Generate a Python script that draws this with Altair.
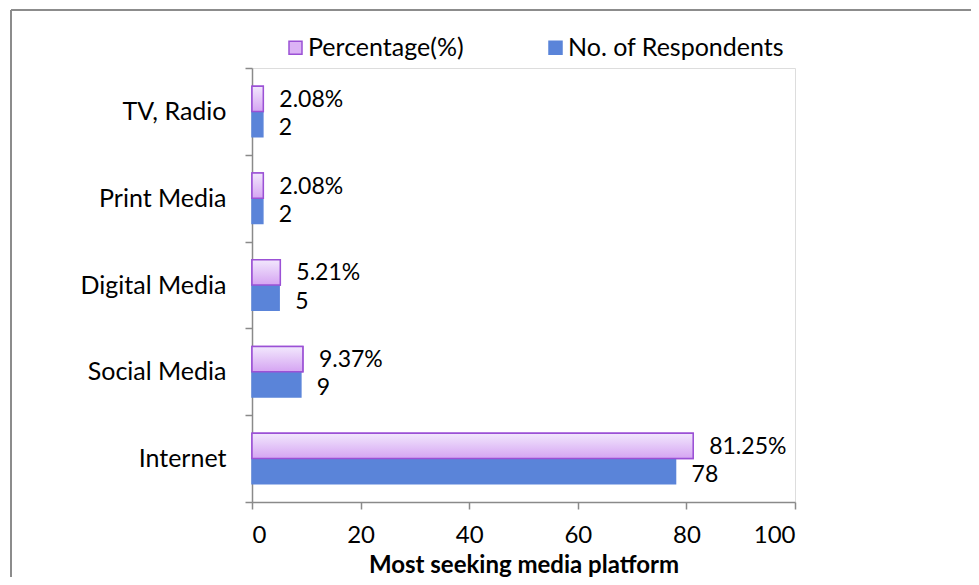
import altair as alt
import pandas as pd

categories = ["TV, Radio", "Print Media", "Digital Media", "Social Media", "Internet"]
series_names = ["Percentage(%)", "No. of Respondents"]
percentages = [2.08, 2.08, 5.21, 9.37, 81.25]
respondents = [2, 2, 5, 9, 78]
pct_labels = ["2.08%", "2.08%", "5.21%", "9.37%", "81.25%"]
resp_labels = ["2", "2", "5", "9", "78"]
x_ticks = [0, 20, 40, 60, 80, 100]

rows = []
for c, p, pl in zip(categories, percentages, pct_labels):
    rows.append({"category": c, "series": series_names[0], "value": p, "label": pl})
for c, r, rl in zip(categories, respondents, resp_labels):
    rows.append({"category": c, "series": series_names[1], "value": r, "label": rl})
df = pd.DataFrame(rows)

FONT = "Lato"
FS = 25
AXIS_GREY = "#8a8a8a"
BLUE = "#5a84d9"
LAV = "#dcb3f5"
PURPLE = "#9b51d5"

y_enc = alt.Y("category:N", sort=categories, title=None,
              scale=alt.Scale(paddingInner=0, paddingOuter=0),
              axis=alt.Axis(tickBand="extent", labelFontSize=FS, labelFont=FONT,
                            labelColor="black", labelPadding=19, tickSize=7,
                            domainColor=AXIS_GREY, tickColor=AXIS_GREY,
                            domainWidth=1.5, tickWidth=1.5, labelLimit=400))
yoff = alt.YOffset("series:N", sort=series_names,
                   scale=alt.Scale(domain=series_names, paddingOuter=0.72, paddingInner=0))
x_enc = alt.X("value:Q", title="Most seeking media platform",
              scale=alt.Scale(domain=[0, 100], nice=False),
              axis=alt.Axis(values=x_ticks, labelFontSize=24, labelFont=FONT,
                            labelColor="black", labelPadding=14, tickSize=7,
                            domainColor=AXIS_GREY, tickColor=AXIS_GREY,
                            domainWidth=1.5, tickWidth=1.5, grid=False,
                            titleFont=FONT, titleFontSize=24, titleFontWeight="bold",
                            titleColor="black", titleY=70, titleBaseline="alphabetic"))

base = alt.Chart(df)

bars = base.mark_bar(strokeWidth=1.5).encode(
    x=x_enc, y=y_enc, yOffset=yoff,
    fill=alt.Fill("series:N", sort=series_names,
                  scale=alt.Scale(domain=series_names, range=[LAV, BLUE]),
                  legend=alt.Legend(title=None, orient="none", direction="horizontal",
                                    legendX=31, legendY=-33, symbolType="square",
                                    symbolSize=169, symbolStrokeWidth=1.5,
                                    labelFont=FONT, labelFontSize=FS, labelColor="black",
                                    labelOffset=0, columnPadding=79, padding=0,
                                    labelLimit=500)),
    stroke=alt.Stroke("series:N", sort=series_names,
                      scale=alt.Scale(domain=series_names, range=[PURPLE, BLUE]),
                      legend=None),
)

grad = alt.Gradient(gradient="linear", x1=0, x2=0, y1=0, y2=1,
                    stops=[alt.GradientStop(color="#f2e8fd", offset=0),
                           alt.GradientStop(color="#d5a4f2", offset=1)])
pct_bars = base.transform_filter(alt.datum.series == series_names[0]).mark_bar(
    fill=grad, stroke=PURPLE, strokeWidth=1.5).encode(x=x_enc, y=y_enc, yOffset=yoff)

pct_text = base.transform_filter(alt.datum.series == series_names[0]).mark_text(
    align="left", baseline="middle", dx=16, dy=1,
    font=FONT, fontSize=23, color="black").encode(
    x=x_enc, y=y_enc, yOffset=yoff, text="label:N")
resp_text = base.transform_filter(alt.datum.series == series_names[1]).mark_text(
    align="left", baseline="middle", dx=16, dy=4,
    font=FONT, fontSize=23, color="black").encode(
    x=x_enc, y=y_enc, yOffset=yoff, text="label:N")

frame_df = pd.DataFrame({"k": [0]})
left_line = alt.Chart(frame_df).mark_rule(color="#8c8c8c", strokeWidth=2).encode(
    x=alt.value(-241), y=alt.value(-58), y2=alt.value(700))
top_line = alt.Chart(frame_df).mark_rule(color="#8c8c8c", strokeWidth=2).encode(
    x=alt.value(-241), x2=alt.value(1000), y=alt.value(-58))

chart = alt.layer(bars, pct_bars, pct_text, resp_text, left_line, top_line).properties(
    width=543, height=434,
    autosize=alt.AutoSizeParams(type="none"),
    padding={"left": 244, "top": 60, "right": 176, "bottom": 75},
).configure_view(stroke=None).configure(background="white")

chart.save("out.html", embed_options={"renderer": "svg", "actions": False})
